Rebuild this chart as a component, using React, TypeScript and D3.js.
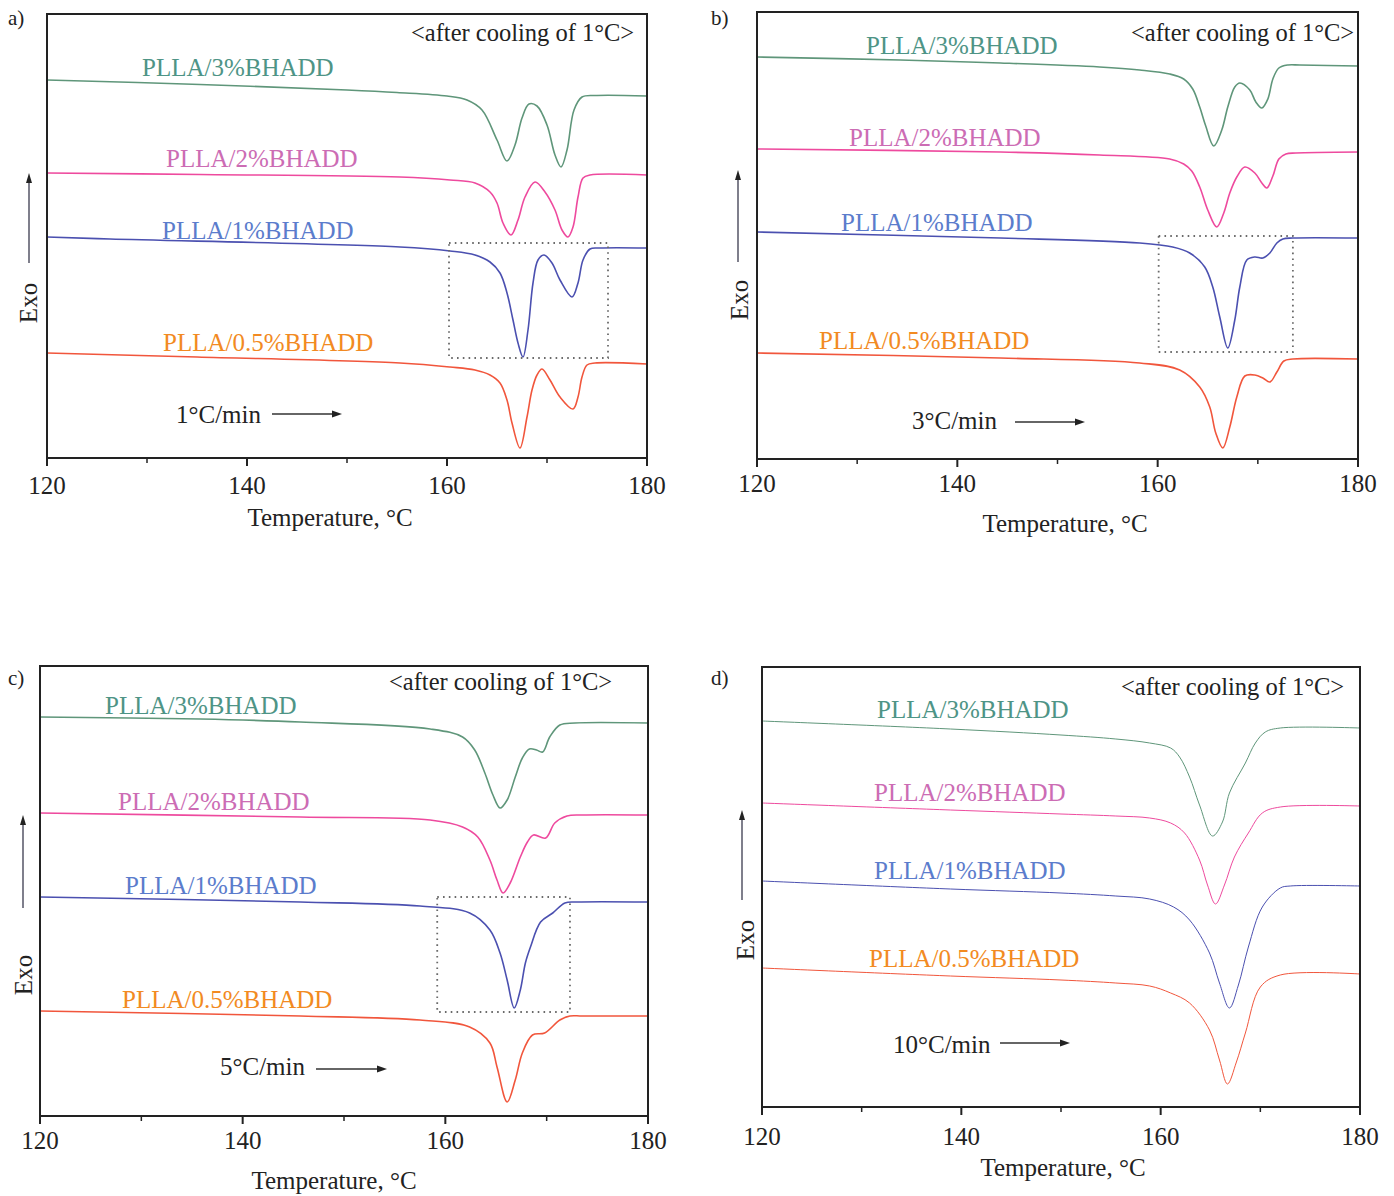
import React from 'react';
import * as d3 from 'd3';

type Pt = [number, number];

// Series names and colours
const seriesNames = ['PLLA/3%BHADD', 'PLLA/2%BHADD', 'PLLA/1%BHADD', 'PLLA/0.5%BHADD'];
const lineColors = ['#5f967a', '#ee4a9e', '#4b50b0', '#f1563c'];
const labelColors = ['#4e9486', '#cc6cb4', '#5b7ccc', '#f28a22'];
const rateLabels = ['1°C/min', '3°C/min', '5°C/min', '10°C/min'];
const panelTags = ['a)', 'b)', 'c)', 'd)'];
const xMajorTicks = [120, 140, 160, 180];
const xMinorTicks = [130, 150, 170];
const coolingNote = '<after cooling of 1°C>';
const xTitle = 'Temperature, °C';
const yTitle = 'Exo';

// Panel a (1 °C/min): [temperature °C, heat flow a.u.]
const a3: Pt[] = [[120,378],[135.3,373.5],[150,368],[155,365.5],[160,362],[162,358],[163.5,348],[165,318],[166,297],[166.8,313],[167.5,340],[168.2,354],[169,352],[170,333],[170.8,303],[171.4,291],[172,308],[172.7,348],[173.5,361],[175,362.5],[180,362]];
const a2: Pt[] = [[120,285],[135.3,283.5],[155.3,281],[160.3,278],[162.8,275],[164.3,266],[165,255],[165.6,235],[166.4,223],[167.1,238],[167.8,261],[168.8,276],[169.8,266],[170.8,248],[171.5,228],[172.1,221],[172.6,231],[173.1,261],[173.6,280],[174.3,283],[180,283]];
const a1: Pt[] = [[120,221],[126.3,219],[155.3,211],[160.3,207],[162.8,203],[164.3,196],[165.3,185],[166,165],[166.6,138],[167.1,115],[167.6,101],[168.1,128],[168.6,175],[169.1,198],[169.7,203],[170.5,195],[171.3,178],[172.5,161],[173.1,175],[173.6,198],[174.3,209],[175.3,210],[180,210]];
const a05: Pt[] = [[120,105],[135,101],[155.3,95],[160.3,91],[162.8,88],[164.3,83],[165.3,75],[166,58],[166.5,35],[167.3,10],[168,41],[168.5,68],[169,83],[169.5,89],[170.3,78],[171.3,61],[172.6,49],[173.1,61],[173.5,81],[174,93],[174.8,95],[180,94]];

// Panel b (3 °C/min)
const b3: Pt[] = [[120,402],[134.3,399],[144.3,396],[154.2,392],[158.2,389],[161.2,385],[162.6,380],[163.5,370],[164.2,352],[164.8,333],[165.6,313],[166.4,329],[167,352],[167.7,372],[168.2,376],[169.2,369],[169.8,357],[170.4,351],[171,360],[171.5,380],[172.1,391],[173,394],[174.2,394],[180,393]];
const b2: Pt[] = [[120,310],[144.3,307],[154.2,304],[161.2,300],[162.6,295],[163.4,288],[164.2,272],[165,249],[165.9,232],[166.6,246],[167.2,266],[167.9,282],[168.7,292],[169.7,286],[170.4,276],[170.9,271],[171.5,283],[172.1,300],[172.8,305],[173.8,306],[180,307]];
const b1: Pt[] = [[120,227],[144.3,221],[158.2,216],[161.5,212],[163.2,206],[164.7,192],[165.5,172],[166.2,142],[167,111],[167.7,139],[168.2,172],[168.9,199],[169.7,202],[170.5,201],[171.2,206],[171.9,216],[172.5,220],[173.5,221],[180,221]];
const b05: Pt[] = [[120,106],[144.3,101],[158.2,96],[162.2,89],[164.2,72],[165.2,52],[165.8,26],[166.5,11],[167.2,32],[167.9,62],[168.7,83],[169.7,84],[170.5,81],[171.2,77],[171.9,87],[172.6,98],[173.5,100],[180,100]];

// Panel c (5 °C/min)
const c3: Pt[] = [[120,399],[135.8,397],[145.7,394],[158.5,387],[161.7,379],[162.9,366],[163.9,343],[164.7,321],[165.4,308],[166.1,316],[166.9,339],[167.6,358],[168.3,367],[169,366],[169.6,364],[170.3,379],[171.3,391],[172.8,393],[180,393]];
const c2: Pt[] = [[120,303],[145.7,299],[158.5,296],[161.7,289],[163.2,279],[164.4,256],[165.1,236],[165.7,223],[166.4,233],[167.4,259],[168.1,274],[168.7,281],[169.9,278],[170.8,293],[172,300],[173.5,301],[180,301]];
const c1: Pt[] = [[120,219],[145.7,214],[157.5,210],[162.4,203],[164.4,186],[165.4,163],[166.1,136],[166.8,108],[167.4,126],[167.9,153],[168.4,169],[169.4,194],[170.6,203],[171.8,213],[173,214],[180,214]];
const c05: Pt[] = [[120,105],[145.7,100],[157.5,96],[162.4,89],[164.4,73],[165.1,49],[166.1,14],[166.9,36],[167.6,63],[168.6,81],[169.8,83],[171.3,96],[172.3,100],[173.5,100],[180,100]];

// Panel d (10 °C/min)
const d3s: Pt[] = [[120,386],[138.9,378],[150,372],[155.5,368],[158.9,364],[161,359],[161.9,350],[162.9,330],[163.9,302],[165.2,271],[166.2,285],[166.9,314],[168.5,344],[169.5,364],[170.5,375],[172,379],[180,379]];
const d2: Pt[] = [[120,304],[138.9,297],[150,293],[155.5,291],[158.9,289],[161,284],[162.4,274],[163.9,247],[164.7,222],[165.5,203],[166.4,222],[167.4,250],[168.8,274],[170.2,294],[172,300],[180,301]];
const d1: Pt[] = [[120,226],[138.9,218],[150,214],[155.5,211],[158.9,208],[161.3,200],[162.9,187],[164.9,154],[165.9,124],[166.9,99],[167.8,122],[168.8,160],[170.2,200],[172,219],[173,221],[180,221]];
const d05: Pt[] = [[120,139],[138.9,131],[150,127],[155.5,124],[158.9,121],[161,114],[162.9,104],[164.9,77],[165.9,47],[166.7,23],[167.6,45],[168.5,74],[170,120],[172,132],[180,133]];

// Zoom boxes (dotted) in data units: [T0, T1, vTop, vBottom]
const boxA = [160.2, 176.1, 215, 100];
const boxB = [160.1, 173.5, 223, 107];
const boxC = [159.2, 172.3, 219, 104];

const panels = [
  { left: 47, right: 647, top: 14, bottom: 458, data: [a3, a2, a1, a05], lw: 1.6,
    labels: [[142, 67], [166, 158], [162, 230], [163, 342]], cool: [411, 32], rate: [176, 414], arrow: [272, 342, 414],
    exo: [28, 303], vArrow: [29, 263, 173], tag: [8, 18], tickY: 485, title: [330, 517], box: boxA },
  { left: 757, right: 1358, top: 12, bottom: 459, data: [b3, b2, b1, b05], lw: 1.6,
    labels: [[866, 45], [849, 137], [841, 222], [819, 340]], cool: [1131, 32], rate: [912, 420], arrow: [1015, 1085, 422],
    exo: [739, 300], vArrow: [738, 262, 170], tag: [711, 18], tickY: 483, title: [1065, 523], box: boxB },
  { left: 40, right: 648, top: 666, bottom: 1116, data: [c3, c2, c1, c05], lw: 1.6,
    labels: [[105, 705], [118, 801], [125, 885], [122, 999]], cool: [389, 681], rate: [220, 1066], arrow: [316, 387, 1069],
    exo: [23, 975], vArrow: [23, 908, 815], tag: [8, 678], tickY: 1140, title: [334, 1180], box: boxC },
  { left: 762, right: 1360, top: 667, bottom: 1107, data: [d3s, d2, d1, d05], lw: 1.0,
    labels: [[877, 709], [874, 792], [874, 870], [869, 958]], cool: [1121, 686], rate: [893, 1044], arrow: [1000, 1070, 1043],
    exo: [745, 940], vArrow: [742, 900, 810], tag: [711, 678], tickY: 1136, title: [1063, 1167], box: null as number[] | null },
];

const FONT = '"Liberation Serif", "Times New Roman", serif';

function Panel({ p, i }: { p: typeof panels[number]; i: number }) {
  const x = d3.scaleLinear().domain([120, 180]).range([p.left, p.right]);
  const y = d3.scaleLinear().domain([0, p.bottom - p.top]).range([p.bottom, p.top]);
  const line = d3.line<Pt>().x(d => x(d[0])).y(d => y(d[1])).curve(d3.curveCatmullRom.alpha(0.5));
  return (
    <g>
      {p.data.map((s, k) => (
        <path key={k} d={line(s) || ''} fill="none" stroke={lineColors[k]} strokeWidth={p.lw} strokeLinejoin="round" />
      ))}
      {p.box && (
        <rect x={x(p.box[0])} y={y(p.box[2])} width={x(p.box[1]) - x(p.box[0])} height={y(p.box[3]) - y(p.box[2])}
          fill="none" stroke="#6a6a6a" strokeWidth={1.8} strokeDasharray="1.6 4.2" />
      )}
      <rect x={p.left} y={p.top} width={p.right - p.left} height={p.bottom - p.top} fill="none" stroke="#222" strokeWidth={2} />
      {xMajorTicks.map(t => (
        <g key={t}>
          <line x1={x(t)} x2={x(t)} y1={p.bottom} y2={p.bottom + 8} stroke="#222" strokeWidth={2} />
          <text x={x(t)} y={p.tickY} textAnchor="middle" dominantBaseline="central" fontSize={25} fill="#222">{t}</text>
        </g>
      ))}
      {xMinorTicks.map(t => (
        <line key={t} x1={x(t)} x2={x(t)} y1={p.bottom} y2={p.bottom + 5} stroke="#222" strokeWidth={1.5} />
      ))}
      <text x={p.title[0]} y={p.title[1]} textAnchor="middle" dominantBaseline="central" fontSize={25} fill="#222">{xTitle}</text>
      <text transform={`translate(${p.exo[0]},${p.exo[1]}) rotate(-90)`} textAnchor="middle" dominantBaseline="central" fontSize={25} fill="#222">{yTitle}</text>
      <line x1={p.vArrow[0]} x2={p.vArrow[0]} y1={p.vArrow[1]} y2={p.vArrow[2] + 6} stroke="#556" strokeWidth={1.5} />
      <path d={`M${p.vArrow[0]},${p.vArrow[2]} l-3,10 l6,0 z`} fill="#222" />
      <text x={p.tag[0]} y={p.tag[1]} dominantBaseline="central" fontSize={21} fill="#222">{panelTags[i]}</text>
      <text x={p.cool[0]} y={p.cool[1]} dominantBaseline="central" fontSize={24.5} fill="#222">{coolingNote}</text>
      <text x={p.rate[0]} y={p.rate[1]} dominantBaseline="central" fontSize={25} fill="#222">{rateLabels[i]}</text>
      <line x1={p.arrow[0]} x2={p.arrow[1] - 6} y1={p.arrow[2]} y2={p.arrow[2]} stroke="#333" strokeWidth={1.4} />
      <path d={`M${p.arrow[1]},${p.arrow[2]} l-10,-3.5 l0,7 z`} fill="#222" />
      {seriesNames.map((n, k) => (
        <text key={n} x={p.labels[k][0]} y={p.labels[k][1]} dominantBaseline="central" fontSize={25} fill={labelColors[k]}>{n}</text>
      ))}
    </g>
  );
}

export default function App() {
  return (
    <svg width={1394} height={1196} style={{ position: 'absolute', left: 0, top: 0, fontFamily: FONT, background: '#fff' }}>
      <rect x={0} y={0} width={1394} height={1196} fill="#fff" />
      {panels.map((p, i) => <Panel key={i} p={p} i={i} />)}
    </svg>
  );
}
